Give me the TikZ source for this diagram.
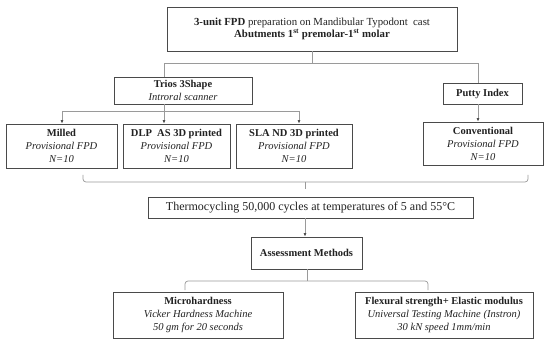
\documentclass[tikz,border=0pt]{standalone}
\usepackage{fontspec}
\setmainfont{Liberation Serif}
\usetikzlibrary{arrows.meta}
\definecolor{txt}{HTML}{222222}
\definecolor{bord}{HTML}{4A4A4A}
\definecolor{lin}{HTML}{9A9A9A}
\begin{document}
\begin{tikzpicture}[x=1pt,y=-1pt,
  box/.style={draw=bord, line width=0.8pt, text=txt, align=center, inner sep=0pt,
    font=\fontsize{10.5}{13}\selectfont},
  conn/.style={draw=lin, line width=0.7pt},
  arr/.style={conn, -{Latex[length=3.5pt,width=3pt]}, arrows={-{Latex[color=txt!80,length=3.5pt,width=3pt]}}},
  brc/.style={conn, rounded corners=3pt}]
\useasboundingbox[fill=white] (0,0) rectangle (550,345);

\node[box, minimum width=290pt, minimum height=44pt, font=\fontsize{10.8}{12.5}\selectfont] (top) at (312,29)
  {\textbf{3-unit FPD} preparation on Mandibular Typodont\ \ cast\\ \textbf{Abutments 1\textsuperscript{st} premolar-1\textsuperscript{st} molar}};
\node[box, minimum width=138pt, minimum height=27pt] (trios) at (183,90.5)
  {\textbf{Trios 3Shape}\\ \textit{Introral scanner}};
\node[box, minimum width=79pt, minimum height=21pt] (putty) at (482.5,93.5)
  {\textbf{Putty Index}};
\node[box, minimum width=111pt, minimum height=44pt] (milled) at (61.5,146)
  {\textbf{Milled}\\ \textit{Provisional FPD}\\ \textit{N=10}};
\node[box, minimum width=107pt, minimum height=44pt] (dlp) at (176.5,146)
  {\textbf{DLP\ \ AS 3D printed}\\ \textit{Provisional FPD}\\ \textit{N=10}};
\node[box, minimum width=116pt, minimum height=44pt] (sla) at (294,146)
  {\textbf{SLA ND 3D printed}\\ \textit{Provisional FPD}\\ \textit{N=10}};
\node[box, minimum width=120pt, minimum height=43pt] (conv) at (483,143.5)
  {\textbf{Conventional}\\ \textit{Provisional FPD}\\ \textit{N=10}};
\node[box, minimum width=325pt, minimum height=21pt, font=\fontsize{12}{14}\selectfont] (thermo) at (310.5,207.5)
  {Thermocycling 50,000 cycles at temperatures of 5 and 55°C};
\node[box, minimum width=111pt, minimum height=32pt] (assess) at (306.5,253)
  {\textbf{Assessment Methods}};
\node[box, minimum width=170pt, minimum height=46pt] (micro) at (198,315)
  {\textbf{Microhardness}\\ \textit{Vicker Hardness Machine}\\ \textit{50 gm for 20 seconds}};
\node[box, minimum width=178pt, minimum height=46pt] (flex) at (444,315)
  {\textbf{Flexural strength+ Elastic modulus}\\ \textit{Universal Testing Machine (Instron)}\\ \textit{30 kN speed 1mm/min}};

% top splitter
\coordinate (h1L) at (164,63);
\coordinate (h1R) at (478,63);
\draw[conn] (top.south) -- (top.south |- h1L);
\draw[conn] (h1L |- trios.north) -- (h1L) -- (h1R) -- (h1R |- putty.north);

% trios splitter
\coordinate (h2L) at (62,111);
\coordinate (h2M) at (164,111);
\coordinate (h2R) at (299,111);
\draw[conn] (h2M |- trios.south) -- (h2M);
\draw[conn] (h2L) -- (h2R);
\draw[arr] (h2L) -- (h2L |- milled.north);
\draw[arr] (h2M) -- (h2M |- dlp.north);
\draw[arr] (h2R) -- (h2R |- sla.north);

% putty
\draw[arr] (h1R |- putty.south) -- (h1R |- conv.north);

% brace under groups
\coordinate (bL) at (83,175);
\coordinate (bR) at (528,175);
\coordinate (bM) at (305,182);
\coordinate (bT) at (305,189);
\draw[brc] (bL) -- (bL |- bM) -- (bR |- bM) -- (bR);
\draw[conn] (bM) -- (bT);

% thermo -> assessment
\draw[arr] (thermo.south -| bM) -- (assess.north -| bM);

% assessment bracket
\coordinate (cM) at (307,281);
\coordinate (cL) at (185,290);
\coordinate (cR) at (428,290);
\draw[conn] (assess.south -| cM) -- (cM);
\draw[brc] (cL) -- (cL |- cM) -- (cR |- cM) -- (cR);
\end{tikzpicture}
\end{document}
